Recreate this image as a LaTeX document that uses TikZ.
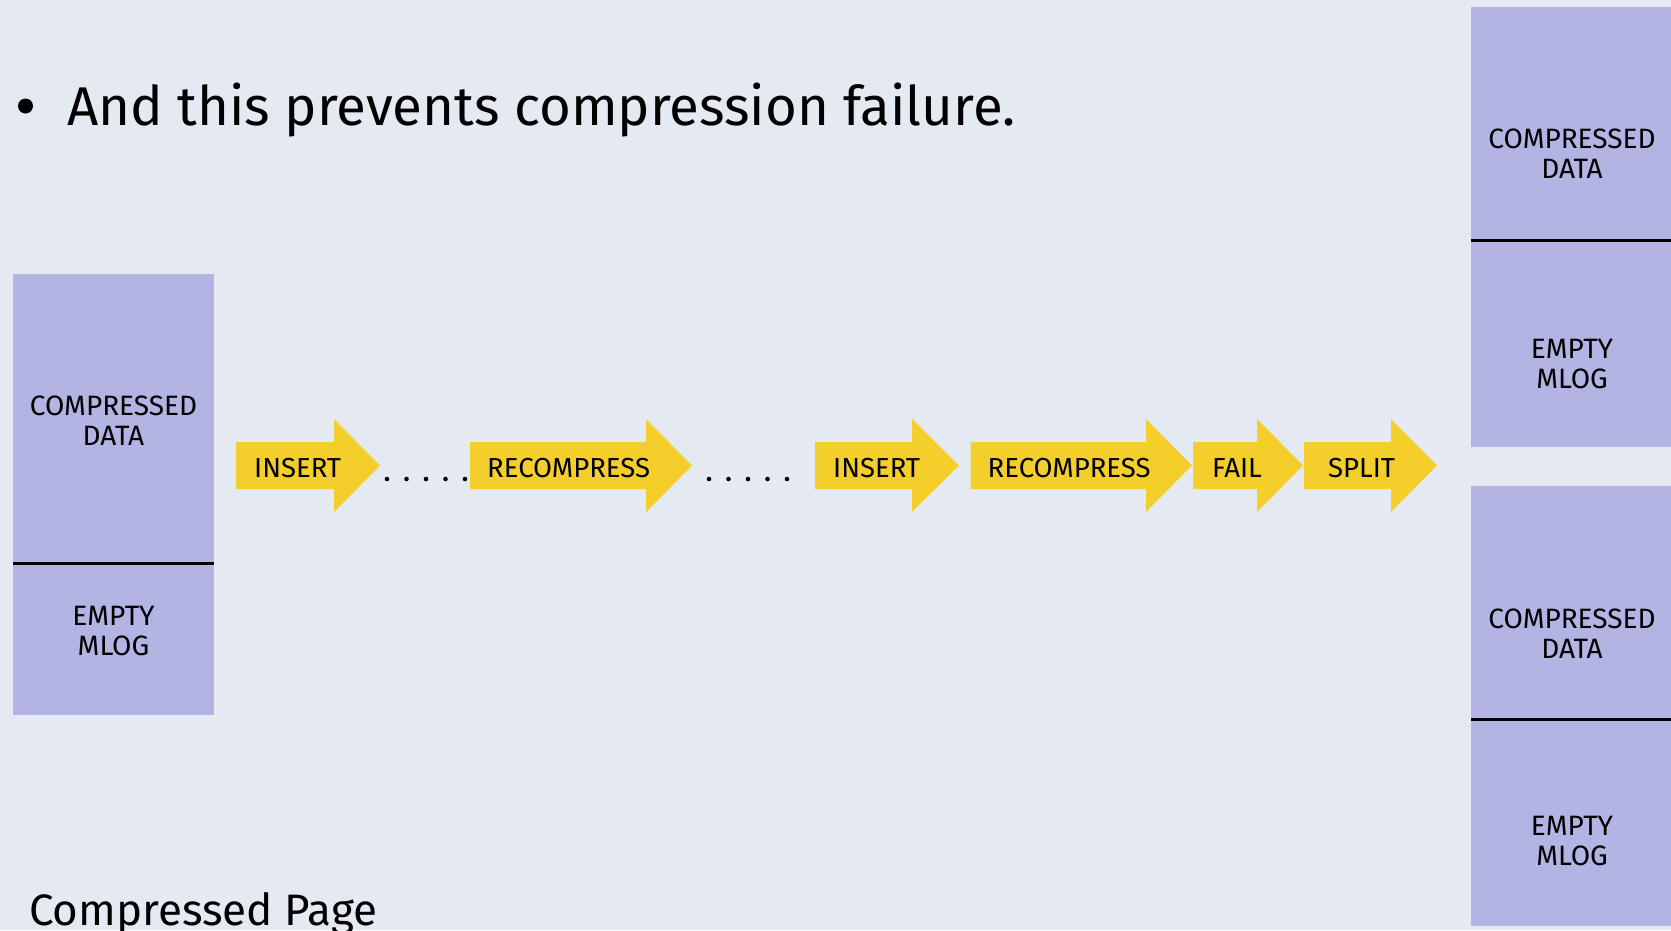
\documentclass[tikz,border=0pt]{standalone}
\usepackage{fontspec}
\setmainfont{Fira Sans}
\definecolor{slidebg}{RGB}{229,234,242}
\definecolor{pagefill}{RGB}{178,180,228}
\definecolor{stepyellow}{RGB}{244,206,42}

% A yellow block arrow with its label: name, body start, head start, tip, text, label inset
\newcommand\steparrow[6]{%
  \fill[stepyellow] (#2,442) -- (#3,442) -- (#3,419) -- (#4,465.5)
        -- (#3,512) -- (#3,489) -- (#2,489) -- cycle;
  \node[steplbl] (#1) at ({#2+#6},477) {#5};
}

\begin{document}
\begin{tikzpicture}[x=1pt,y=-1pt,
  boxlbl/.style={font=\fontsize{28}{30}\selectfont, align=center, inner sep=0pt},
  steplbl/.style={font=\fontsize{27.5}{30}\selectfont, anchor=base west, inner sep=0pt},
  divider/.style={line width=3pt, black},
  gapdot/.style={circle, fill=black, inner sep=0pt, minimum size=4.6pt}]

\fill[slidebg] (0,0) rectangle (1671,930);
\useasboundingbox (0,0) rectangle (1671,930);

% bullet line
\node[circle, fill=black, inner sep=0pt, minimum size=15pt] (bullet) at (25.5,106) {};
\node[anchor=base west, inner sep=0pt, font=\fontsize{54.6}{66}\selectfont] (point) at (67,125)
  {And this prevents compression failure.};

% compressed page on the left
\fill[pagefill] (13,274) rectangle (214,715);
\draw[divider] (13,563) -- (214,563);
\node[boxlbl] (ldata) at (113.5,421) {COMPRESSED\\DATA};
\node[boxlbl] (lmlog) at (113.5,631) {EMPTY\\MLOG};

% sequence of operations
\steparrow{ins1}{236}{334}{380}{INSERT}{18}
\foreach \x [count=\i] in {387,406.5,426,445.5,465}
  \node[gapdot] (ga\i) at (\x,479) {};
\steparrow{rec1}{470}{646}{692}{RECOMPRESS}{17}
\foreach \x [count=\i] in {709,728.5,748,767.5,787}
  \node[gapdot] (gb\i) at (\x,479) {};
\steparrow{ins2}{815}{912}{959}{INSERT}{18}
\steparrow{rec2}{970.5}{1146}{1192}{RECOMPRESS}{17}
\steparrow{fail}{1193}{1257}{1303}{FAIL}{19}
\steparrow{split}{1304}{1391}{1437}{SPLIT}{24}

% the two pages after the split
\fill[pagefill] (1471,7) rectangle (1671,447);
\draw[divider] (1471,240) -- (1671,240);
\node[boxlbl] (rdata1) at (1572,154) {COMPRESSED\\DATA};
\node[boxlbl] (rmlog1) at (1572,364) {EMPTY\\MLOG};

\fill[pagefill] (1471,486) rectangle (1671,926);
\draw[divider] (1471,719) -- (1671,719);
\node[boxlbl] (rdata2) at (1572,633.5) {COMPRESSED\\DATA};
\node[boxlbl] (rmlog2) at (1572,841) {EMPTY\\MLOG};

% caption
\node[anchor=base west, inner sep=0pt, font=\fontsize{44}{52}\selectfont] (caption) at (29,925)
  {Compressed Page};
\end{tikzpicture}
\end{document}
